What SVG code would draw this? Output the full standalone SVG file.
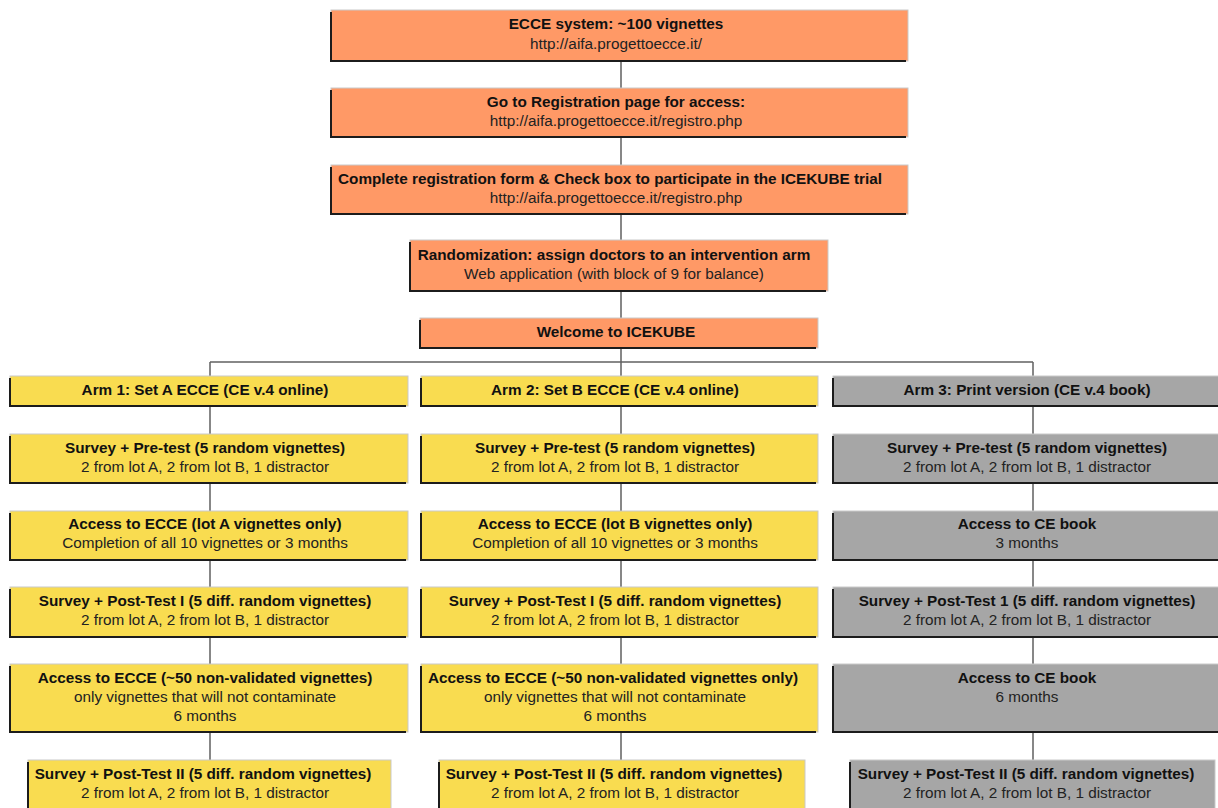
<svg xmlns="http://www.w3.org/2000/svg" width="1218" height="808" viewBox="0 0 1218 808">
<style>
.box{stroke:#c9c9c9;stroke-width:1}
.or{fill:#FF9966}
.ye{fill:#F9DC50}
.gr{fill:#A6A6A6}
.sh{fill:none;stroke:#1c1c1c;stroke-width:2}
.t{font-family:"Liberation Sans",Arial,sans-serif;font-size:15.3px;font-weight:bold;fill:#111;text-anchor:middle}
.s{font-family:"Liberation Sans",Arial,sans-serif;font-size:15.3px;fill:#222;text-anchor:middle}
.c{fill:none;stroke:#606060;stroke-width:1.5}
</style>
<rect width="1218" height="808" fill="#fff"/>
<g id="connectors">
<path class="c" d="M621,61V88M621,137V165M621,214V240M621,291V318M621,348V362"/>
<path class="c" d="M210,362H1033"/>
<path class="c" d="M210,362V376M210,406V434M210,483V511M210,560V587M210,637V664M210,732V760"/>
<path class="c" d="M621,362V376M621,406V434M621,483V511M621,560V587M621,637V664M621,732V760"/>
<path class="c" d="M1033,362V376M1033,406V434M1033,483V511M1033,560V587M1033,637V664M1033,732V760"/>
</g>
<g id="n1"><rect class="box or" x="331" y="10" width="577" height="51"/><path class="sh" d="M331,12V61H906"/><text class="t" x="616" y="29">ECCE system: ~100 vignettes</text><text class="s" x="616" y="49">http://aifa.progettoecce.it/</text></g>
<g id="n2"><rect class="box or" x="331" y="88" width="577" height="49"/><path class="sh" d="M331,90V137H906"/><text class="t" x="616" y="107">Go to Registration page for access:</text><text class="s" x="616" y="126">http://aifa.progettoecce.it/registro.php</text></g>
<g id="n3"><rect class="box or" x="331" y="165" width="577" height="49"/><path class="sh" d="M331,167V214H906"/><text class="t" x="610" y="184">Complete registration form &amp; Check box to participate in the ICEKUBE trial</text><text class="s" x="616" y="203">http://aifa.progettoecce.it/registro.php</text></g>
<g id="n4"><rect class="box or" x="410" y="240" width="418" height="51"/><path class="sh" d="M410,242V291H826"/><text class="t" x="614" y="260">Randomization: assign doctors to an intervention arm</text><text class="s" x="614" y="279">Web application (with block of 9 for balance)</text></g>
<g id="n5"><rect class="box or" x="420" y="318" width="398" height="30"/><path class="sh" d="M420,320V348H816"/><text class="t" x="616" y="337">Welcome to ICEKUBE</text></g>

<g id="a1"><rect class="box ye" x="10" y="376" width="398" height="30"/><path class="sh" d="M10,378V406H406"/><text class="t" x="205" y="395">Arm 1: Set A ECCE (CE v.4 online)</text></g>
<g id="a2"><rect class="box ye" x="421" y="376" width="397" height="30"/><path class="sh" d="M421,378V406H816"/><text class="t" x="615" y="395">Arm 2: Set B ECCE (CE v.4 online)</text></g>
<g id="a3"><rect class="box gr" x="833" y="376" width="400" height="30"/><path class="sh" d="M833,378V406H1233"/><text class="t" x="1027" y="395">Arm 3: Print version (CE v.4 book)</text></g>

<g id="a1r2"><rect class="box ye" x="10" y="434" width="398" height="49"/><path class="sh" d="M10,436V483H406"/><text class="t" x="205" y="453">Survey + Pre-test (5 random vignettes)</text><text class="s" x="205" y="472">2 from lot A, 2 from lot B, 1 distractor</text></g>
<g id="a2r2"><rect class="box ye" x="421" y="434" width="397" height="49"/><path class="sh" d="M421,436V483H816"/><text class="t" x="615" y="453">Survey + Pre-test (5 random vignettes)</text><text class="s" x="615" y="472">2 from lot A, 2 from lot B, 1 distractor</text></g>
<g id="a3r2"><rect class="box gr" x="833" y="434" width="400" height="49"/><path class="sh" d="M833,436V483H1233"/><text class="t" x="1027" y="453">Survey + Pre-test (5 random vignettes)</text><text class="s" x="1027" y="472">2 from lot A, 2 from lot B, 1 distractor</text></g>

<g id="a1r3"><rect class="box ye" x="10" y="511" width="398" height="49"/><path class="sh" d="M10,513V560H406"/><text class="t" x="205" y="529">Access to ECCE (lot A vignettes only)</text><text class="s" x="205" y="548">Completion of all 10 vignettes or 3 months</text></g>
<g id="a2r3"><rect class="box ye" x="421" y="511" width="397" height="49"/><path class="sh" d="M421,513V560H816"/><text class="t" x="615" y="529">Access to ECCE (lot B vignettes only)</text><text class="s" x="615" y="548">Completion of all 10 vignettes or 3 months</text></g>
<g id="a3r3"><rect class="box gr" x="833" y="511" width="400" height="49"/><path class="sh" d="M833,513V560H1233"/><text class="t" x="1027" y="529">Access to CE book</text><text class="s" x="1027" y="548">3 months</text></g>

<g id="a1r4"><rect class="box ye" x="10" y="587" width="398" height="50"/><path class="sh" d="M10,589V637H406"/><text class="t" x="205" y="606">Survey + Post-Test I (5 diff. random vignettes)</text><text class="s" x="205" y="625">2 from lot A, 2 from lot B, 1 distractor</text></g>
<g id="a2r4"><rect class="box ye" x="421" y="587" width="397" height="50"/><path class="sh" d="M421,589V637H816"/><text class="t" x="615" y="606">Survey + Post-Test I (5 diff. random vignettes)</text><text class="s" x="615" y="625">2 from lot A, 2 from lot B, 1 distractor</text></g>
<g id="a3r4"><rect class="box gr" x="833" y="587" width="400" height="50"/><path class="sh" d="M833,589V637H1233"/><text class="t" x="1027" y="606">Survey + Post-Test 1 (5 diff. random vignettes)</text><text class="s" x="1027" y="625">2 from lot A, 2 from lot B, 1 distractor</text></g>

<g id="a1r5"><rect class="box ye" x="10" y="664" width="398" height="68"/><path class="sh" d="M10,666V732H406"/><text class="t" x="205" y="683">Access to ECCE (~50 non-validated vignettes)</text><text class="s" x="205" y="702">only vignettes that will not contaminate</text><text class="s" x="205" y="721">6 months</text></g>
<g id="a2r5"><rect class="box ye" x="421" y="664" width="397" height="68"/><path class="sh" d="M421,666V732H816"/><text class="t" x="613" y="683">Access to ECCE (~50 non-validated vignettes only)</text><text class="s" x="615" y="702">only vignettes that will not contaminate</text><text class="s" x="615" y="721">6 months</text></g>
<g id="a3r5"><rect class="box gr" x="833" y="664" width="400" height="68"/><path class="sh" d="M833,666V732H1233"/><text class="t" x="1027" y="683">Access to CE book</text><text class="s" x="1027" y="702">6 months</text></g>

<g id="a1r6"><rect class="box ye" x="28" y="760" width="363" height="60"/><path class="sh" d="M28,762V820"/><text class="t" x="203" y="779">Survey + Post-Test II (5 diff. random vignettes)</text><text class="s" x="205" y="798">2 from lot A, 2 from lot B, 1 distractor</text></g>
<g id="a2r6"><rect class="box ye" x="439" y="760" width="366" height="60"/><path class="sh" d="M439,762V820"/><text class="t" x="614" y="779">Survey + Post-Test II (5 diff. random vignettes)</text><text class="s" x="615" y="798">2 from lot A, 2 from lot B, 1 distractor</text></g>
<g id="a3r6"><rect class="box gr" x="850" y="760" width="365" height="60"/><path class="sh" d="M850,762V820"/><text class="t" x="1026" y="779">Survey + Post-Test II (5 diff. random vignettes)</text><text class="s" x="1027" y="798">2 from lot A, 2 from lot B, 1 distractor</text></g>
</svg>
